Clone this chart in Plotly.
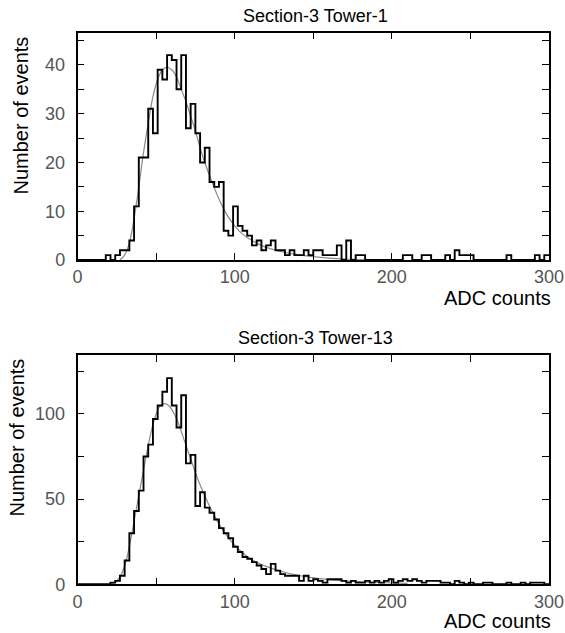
import plotly.graph_objects as go

# ---------------- data ----------------
BIN_WIDTH = 3  # ADC counts per bin, 100 bins from 0 to 300

tower1_counts = [
    0, 0, 0, 0, 0, 0, 1, 0, 1, 2,
    2, 4, 11, 21, 21, 31, 26, 39, 37, 42,
    41, 35, 42, 27, 32, 26, 20, 23, 16, 15,
    16, 6, 5, 11, 7, 6, 5, 3, 4, 2,
    3, 4, 2, 2, 1, 2, 1, 1, 2, 1,
    2, 2, 1, 1, 1, 3, 0, 4, 0, 1,
    1, 0, 0, 0, 0, 0, 0, 0, 0, 1,
    1, 0, 0, 1, 1, 0, 0, 0, 1, 0,
    2, 1, 1, 1, 0, 0, 0, 0, 0, 0,
    0, 1, 0, 0, 0, 0, 0, 1, 0, 1,
]

tower13_counts = [
    0, 0, 0, 0, 0, 0, 0, 1, 2, 5,
    14, 30, 43, 55, 75, 82, 97, 105, 113, 121,
    105, 92, 111, 71, 76, 46, 54, 45, 42, 38,
    33, 30, 27, 22, 19, 16, 15, 13, 11, 9,
    6, 12, 8, 6, 5, 5, 5, 2, 5, 2,
    3, 2, 1, 3, 3, 3, 2, 1, 2, 1,
    1, 2, 1, 2, 1, 2, 3, 1, 2, 3,
    2, 3, 2, 1, 2, 2, 2, 1, 1, 0,
    2, 1, 0, 1, 0, 0, 1, 1, 0, 0,
    0, 1, 0, 0, 1, 0, 1, 1, 1, 0,
]

# fitted curves
fit1_x = [27, 30, 33, 36, 39, 42, 45, 48, 51, 54, 57, 60, 63, 66, 69, 72, 75, 78, 81,
          85, 90, 95, 100, 105, 110, 115, 120, 130, 140, 150, 160, 170, 180, 190]
fit1_y = [0, 1, 3.5, 8.5, 15, 22, 28, 33.5, 37, 39, 39.5, 39, 37.5, 35, 32.5, 29.5, 26.5, 23, 20,
          16.5, 12.5, 9.3, 7, 5.3, 4.2, 3.3, 2.6, 1.7, 1.1, 0.7, 0.4, 0.2, 0.1, 0]

fit13_x = [22, 25, 28, 31, 34, 37, 40, 43, 46, 49, 52, 55, 58, 61, 64, 67, 70, 73, 76,
           80, 85, 90, 95, 100, 105, 110, 115, 120, 130, 140, 150, 160, 170, 180, 190, 200, 210]
fit13_y = [0, 2, 6, 14, 27, 42, 57, 72, 86, 97, 104, 106, 105, 101, 95, 87, 79, 71, 63,
           54, 44, 35.5, 28.5, 23, 18.5, 15, 12.5, 10.5, 7.5, 5.3, 3.8, 2.8, 2.0, 1.5, 1.1, 0.8, 0.6]

titles = ["Section-3 Tower-1", "Section-3 Tower-13"]
x_title = "ADC counts"
y_title = "Number of events"

assert len(tower1_counts) == 100 and len(tower13_counts) == 100

edges = [i * BIN_WIDTH for i in range(len(tower1_counts) + 1)]

# ---------------- figure ----------------
W, H = 565, 633
FONT = "Liberation Sans, Arial, Helvetica, sans-serif"

fig = go.Figure()

def step_trace(counts, xa, ya):
    return go.Scatter(
        x=edges, y=counts + [counts[-1]], mode="lines",
        line=dict(shape="hv", color="black", width=1.9),
        xaxis=xa, yaxis=ya, showlegend=False, hoverinfo="skip")

def fit_trace(fx, fy, xa, ya):
    return go.Scatter(
        x=fx, y=fy, mode="lines",
        line=dict(shape="spline", color="#8a8a8a", width=1.2),
        xaxis=xa, yaxis=ya, showlegend=False, hoverinfo="skip")

fig.add_trace(fit_trace(fit1_x, fit1_y, "x", "y"))
fig.add_trace(step_trace(tower1_counts, "x", "y"))
fig.add_trace(fit_trace(fit13_x, fit13_y, "x2", "y2"))
fig.add_trace(step_trace(tower13_counts, "x2", "y2"))

# pixel geometry
x_left, x_right = 77.5, 549.0
top1, bot1 = 32.7, 260.0
top2, bot2 = 355.0, 584.3

def px2dom(a, b):
    return [1 - b / H, 1 - a / H]

xdom = [x_left / W, x_right / W]

tickfont = dict(family=FONT, size=18, color="#555555")

def xaxis_cfg(anchor):
    return dict(
        domain=xdom, anchor=anchor, range=[0, 300], automargin=False,
        showgrid=False, zeroline=False,
        showline=True, linecolor="black", linewidth=1.5, mirror="allticks",
        ticks="inside", ticklen=7, tickwidth=1, tickcolor="black",
        tickmode="linear", tick0=0, dtick=100,
        minor=dict(ticks="inside", ticklen=7, tickwidth=1, tickcolor="black", dtick=50, showgrid=False),
        tickfont=tickfont, ticklabelstandoff=0,
    )

def yaxis_cfg(anchor, dom, top, dtick, minor):
    return dict(
        domain=dom, anchor=anchor, range=[0, top], automargin=False,
        showgrid=False, zeroline=False,
        showline=True, linecolor="black", linewidth=1.5, mirror="allticks",
        ticks="inside", ticklen=7, tickwidth=1, tickcolor="black",
        tickmode="linear", tick0=0, dtick=dtick,
        minor=dict(ticks="inside", ticklen=7, tickwidth=1, tickcolor="black", dtick=minor, showgrid=False),
        tickfont=tickfont, ticklabelstandoff=7,
    )

fig.update_layout(
    width=W, height=H,
    margin=dict(l=0, r=0, t=0, b=0, autoexpand=False),
    paper_bgcolor="white", plot_bgcolor="white",
    xaxis=xaxis_cfg("y"),
    yaxis=yaxis_cfg("x", px2dom(top1, bot1), 46.6, 10, 5),
    xaxis2=xaxis_cfg("y2"),
    yaxis2=yaxis_cfg("x2", px2dom(top2, bot2), 134.6, 50, 25),
)

def ann(text, x, y, size, angle=0, xanchor="center", yanchor="middle"):
    fig.add_annotation(
        text=text, x=x / W, y=1 - y / H, xref="paper", yref="paper",
        showarrow=False, textangle=angle, xanchor=xanchor, yanchor=yanchor,
        font=dict(family=FONT, size=size, color="black"))

ann(titles[0], 315, 15.5, 18)
ann(titles[1], 315, 337.5, 18)
ann(x_title, 553, 298, 20, xanchor="right")
ann(x_title, 553, 621, 20, xanchor="right")
ann(y_title, 21, 115.5, 20, angle=-90)
ann(y_title, 16, 437.5, 20, angle=-90)

fig.write_html("out.html")
